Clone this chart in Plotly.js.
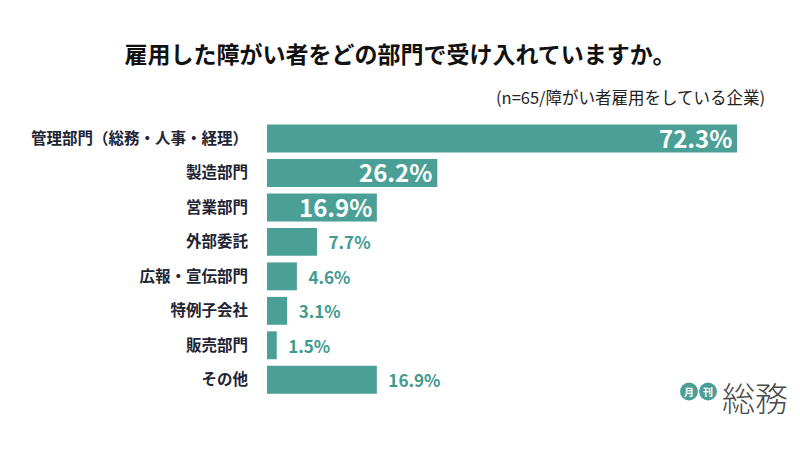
<!DOCTYPE html>
<html><head><meta charset="utf-8">
<script src="https://cdn.plot.ly/plotly-3.0.1.min.js"></script>
<style>body{margin:0;background:#fff}#c{width:800px;height:450px}</style>
</head><body><div id="c"></div>
<script>
const categories = ["管理部門（総務・人事・経理）","製造部門","営業部門","外部委託","広報・宣伝部門","特例子会社","販売部門","その他"];
const values = [72.3, 26.2, 16.9, 7.7, 4.6, 3.1, 1.5, 16.9];
const labelPlacement = ["inside","inside","inside","outside","outside","outside","outside","outside"];

const teal = "#4aa096";
const FONT = '"Noto Sans CJK JP", "Noto Sans", sans-serif';
const texts = values.map((v,i)=> labelPlacement[i]==="outside" ? "\u2002" + v.toFixed(1) + "%" : "");

const trace = {
  type: "bar", orientation: "h",
  x: values, y: categories,
  marker: {color: teal, line: {width: 0}},
  text: texts, textposition: labelPlacement.map(p => p === "outside" ? "outside" : "none"),
  outsidetextfont: {family: FONT, size: 17, color: "#3f9a8f", weight: 700},
  cliponaxis: false, hoverinfo: "skip"
};

const W = 470, H = 277.5, L = 267, B = 397.5;
const px = x => (x - L) / W, py = y => (B - y) / H;

const insideAnns = values.map((v,i) => labelPlacement[i] === "inside" ? {
  text: v.toFixed(1) + "%", x: v, y: categories[i], xref: "x", yref: "y",
  xanchor: "right", yanchor: "middle", xshift: -3, yshift: 1, showarrow: false,
  font: {family: FONT, size: 24, color: "#ffffff", weight: 700}
} : null).filter(a => a);

const layout = {
  width: 800, height: 450,
  margin: {l: 267, r: 63, t: 120, b: 52.5},
  paper_bgcolor: "#fff", plot_bgcolor: "#fff",
  font: {family: FONT},
  showlegend: false, bargap: 0.19,
  title: {text: "雇用した障がい者をどの部門で受け入れていますか。", font: {family: FONT, size: 23, color: "#111", weight: 700},
          x: 0.5, xref: "container", xanchor: "center", y: 1 - 55/450, yref: "container", yanchor: "middle"},
  xaxis: {range: [0, 72.3], visible: false, fixedrange: true},
  yaxis: {autorange: "reversed", showgrid: false, zeroline: false, showline: false, ticks: "",
          ticklabelstandoff: 18, automargin: false,
          tickfont: {family: FONT, size: 15.5, color: "#1e2433", weight: 700}},
  shapes: [
    {type: "circle", xref: "paper", yref: "paper", xsizemode: "pixel", ysizemode: "pixel",
     xanchor: px(689), yanchor: py(392), x0: -9, x1: 9, y0: -9, y1: 9, fillcolor: teal, line: {width: 0}},
    {type: "circle", xref: "paper", yref: "paper", xsizemode: "pixel", ysizemode: "pixel",
     xanchor: px(708), yanchor: py(392), x0: -9, x1: 9, y0: -9, y1: 9, fillcolor: teal, line: {width: 0}}
  ],
  annotations: insideAnns.concat([
    {text: "(n=65/障がい者雇用をしている企業)", xref: "paper", yref: "paper", x: px(767), y: py(97),
     xanchor: "right", yanchor: "middle", showarrow: false, font: {family: FONT, size: 16.5, color: "#222"}},
    {text: "月", xref: "paper", yref: "paper", x: px(689), y: py(392), xanchor: "center", yanchor: "middle",
     showarrow: false, font: {family: FONT, size: 10, color: "#fff", weight: 700}},
    {text: "刊", xref: "paper", yref: "paper", x: px(708), y: py(392), xanchor: "center", yanchor: "middle",
     showarrow: false, font: {family: FONT, size: 10, color: "#fff", weight: 700}},
    {text: "総務", xref: "paper", yref: "paper", x: px(755), y: py(397), xanchor: "center", yanchor: "middle",
     showarrow: false, font: {family: FONT, size: 33, color: "#4a4a4a", weight: 300}}
  ])
};

Plotly.newPlot("c", [trace], layout, {displayModeBar: false, staticPlot: true});
</script></body></html>
